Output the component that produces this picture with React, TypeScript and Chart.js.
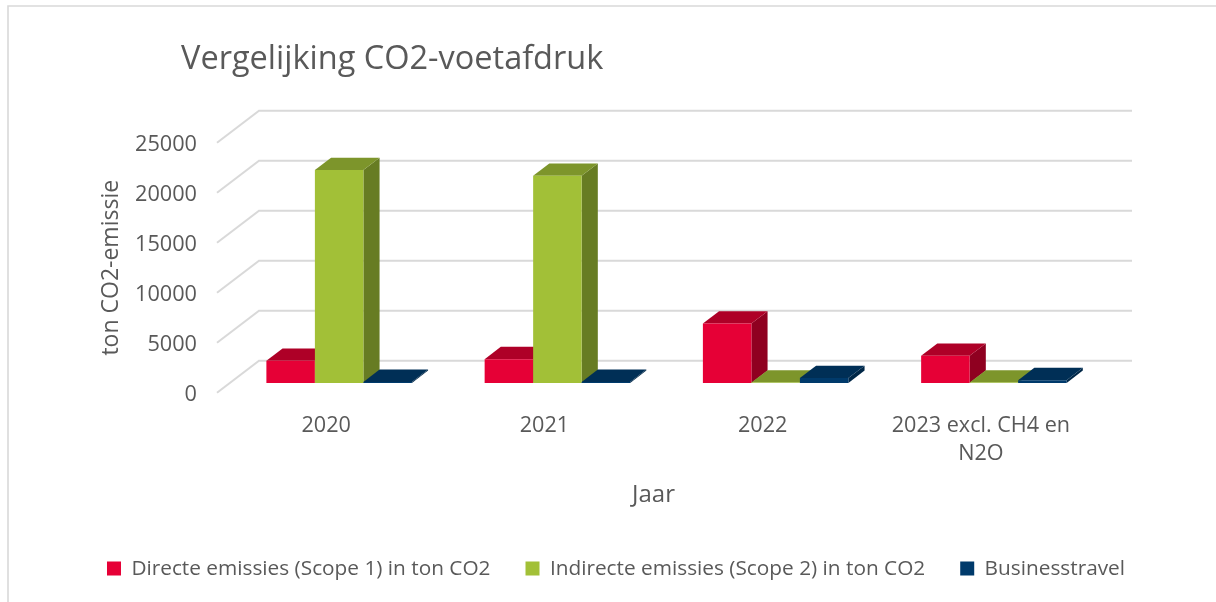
import React, { useEffect, useRef } from "react";
import { Chart, registerables } from "chart.js";

Chart.register(...registerables);

const categories: (string | string[])[] = ["2020", "2021", "2022", ["2023 excl. CH4 en", "N2O"]];
const directe = [2200, 2370, 5940, 2700];
const indirecte = [21270, 20700, 30, 30];
const business = [100, 100, 480, 270];
const chartTitle = "Vergelijking CO2-voetafdruk";
const yTitle = "ton CO2-emissie";
const xTitle = "Jaar";
const seriesNames = [
  "Directe emissies (Scope 1) in ton CO2",
  "Indirecte emissies (Scope 2) in ton CO2",
  "Businesstravel",
];
const faceColors = [
  { front: "#E60036", top: "#AE0027", side: "#8F0020" },
  { front: "#A2C037", top: "#7D952B", side: "#677C23" },
  { front: "#003A6B", top: "#002F56", side: "#002747" },
];

const FONT = "'Open Sans'";
const TEXT = "#595959";
const GRID = "#D9D9D9";
// Depth of the 3D projection
const DEPTH_X = 42;
const DEPTH_Y = -32;
const BAR_NEAR = 0.31;
const BAR_FAR = 0.695;

const poly = (ctx: CanvasRenderingContext2D, pts: number[][], fill: string) => {
  ctx.beginPath();
  pts.forEach((p, i) => (i ? ctx.lineTo(p[0], p[1]) : ctx.moveTo(p[0], p[1])));
  ctx.closePath();
  ctx.fillStyle = fill;
  ctx.fill();
};

const frame3d = {
  id: "frame3d",
  afterLayout(chart: any) {
    const t = chart.titleBlock;
    if (t) {
      t.left = 181;
    }
    const l = chart.legend;
    if (l) {
      l.left += 71;
      l.right += 71;
    }
  },
  beforeDraw(chart: any) {
    const { ctx, chartArea, scales } = chart;
    // nudge the value labels down to sit level with the front-plane gridline ends
    for (const item of scales.y.getLabelItems()) {
      if (!item.nudged) {
        item.nudged = true;
        item.options.translation = [item.options.translation[0], item.options.translation[1] + 2];
      }
    }
    ctx.save();
    ctx.fillStyle = "#fff";
    ctx.fillRect(0, 0, chart.width, chart.height);
    // outer chart border
    ctx.strokeStyle = "#D9D9D9";
    ctx.lineWidth = 1.6;
    ctx.beginPath();
    ctx.moveTo(8, 602);
    ctx.lineTo(8, 6);
    ctx.lineTo(1216, 6);
    ctx.stroke();
    // gridlines on the back wall and the left wall
    ctx.strokeStyle = GRID;
    ctx.lineWidth = 2;
    for (const tick of scales.y.ticks) {
      const y = scales.y.getPixelForValue(tick.value);
      ctx.beginPath();
      ctx.moveTo(chartArea.left, y);
      ctx.lineTo(chartArea.left + DEPTH_X, y + DEPTH_Y);
      ctx.lineTo(chartArea.right + DEPTH_X, y + DEPTH_Y);
      ctx.stroke();
    }
    ctx.restore();
  },
  beforeDatasetsDraw(chart: any) {
    const { ctx } = chart;
    ctx.save();
    const count = chart.data.labels.length;
    for (let c = 0; c < count; c++) {
      chart.data.datasets.forEach((_: any, d: number) => {
        const el = chart.getDatasetMeta(d).data[c];
        const col = faceColors[d];
        const nx = BAR_NEAR * DEPTH_X;
        const ny = BAR_NEAR * DEPTH_Y;
        const fx = (BAR_FAR - BAR_NEAR) * DEPTH_X;
        const fy = (BAR_FAR - BAR_NEAR) * DEPTH_Y;
        const l = el.x - el.width / 2 + nx;
        const r = el.x + el.width / 2 + nx;
        const top = el.y + ny;
        const base = el.base + ny;
        poly(ctx, [[r, top], [r + fx, top + fy], [r + fx, base + fy], [r, base]], col.side);
        poly(ctx, [[l, top], [l + fx, top + fy], [r + fx, top + fy], [r, top]], col.top);
        poly(ctx, [[l, top], [r, top], [r, base], [l, base]], col.front);
      });
    }
    ctx.restore();
    return false;
  },
};

export default function App() {
  const ref = useRef<HTMLCanvasElement>(null);
  useEffect(() => {
    if (!ref.current) return;
    const series = [directe, indirecte, business];
    const chart = new Chart(ref.current, {
      type: "bar",
      data: {
        labels: categories as any,
        datasets: series.map((data, i) => ({
          label: seriesNames[i],
          data,
          backgroundColor: faceColors[i].front,
          categoryPercentage: 0.6667,
          barPercentage: 1,
        })),
      },
      options: {
        animation: false,
        responsive: false,
        layout: { padding: { left: 0, right: 126, top: 0, bottom: 13 } },
        plugins: {
          tooltip: { enabled: false },
          title: {
            display: true,
            text: chartTitle,
            align: "start",
            color: TEXT,
            font: { family: FONT, size: 32.5, weight: "normal", lineHeight: 1.2 },
            padding: { top: 40.5, bottom: 63.2 },
          },
          legend: {
            position: "bottom",
            align: "center",
            labels: {
              color: TEXT,
              boxWidth: 14,
              boxHeight: 14,
              padding: 35,
              font: { family: FONT, size: 20.8 },
            },
          },
        },
        scales: {
          x: {
            grid: { display: false },
            border: { display: false },
            afterFit: (s: any) => {
              s.height = 130.4;
            },
            ticks: {
              color: TEXT,
              autoSkip: false,
              maxRotation: 0,
              padding: 11.4,
              font: { family: FONT, size: 21.6, lineHeight: 1.3 },
            },
            title: {
              display: true,
              text: xTitle,
              color: TEXT,
              font: { family: FONT, size: 24, lineHeight: 1.2 },
              padding: { top: 0, bottom: 13.5 },
            },
          },
          y: {
            min: 0,
            max: 25000,
            grid: { display: false },
            border: { display: false },
            afterFit: (s: any) => {
              s.width = 217;
            },
            ticks: {
              stepSize: 5000,
              color: TEXT,
              padding: 12,
              callback: (v: any) => String(v),
              font: { family: FONT, size: 21.7 },
            },
            title: {
              display: true,
              text: yTitle,
              color: TEXT,
              font: { family: FONT, size: 23, lineHeight: 1.2 },
              padding: { top: 98, bottom: 0 },
            },
          },
        },
      },
      plugins: [frame3d],
    } as any);
    return () => chart.destroy();
  }, []);
  return (
    <canvas
      ref={ref}
      width={1216}
      height={602}
      style={{ position: "fixed", left: 0, top: 0, width: 1216, height: 602, display: "block" }}
    />
  );
}
